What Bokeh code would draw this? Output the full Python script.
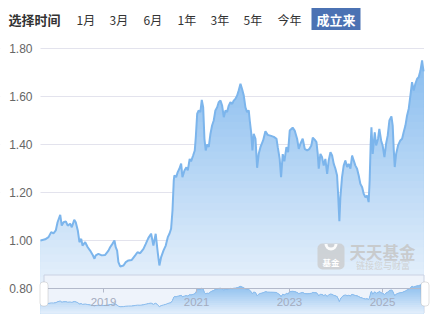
import numpy as np
import pandas as pd
from bokeh.plotting import figure
from bokeh.models import (Range1d, FixedTicker, PrintfTickFormatter,
                          DatetimeTickFormatter, BoxAnnotation, Label)
from bokeh.embed import file_html
from bokeh.resources import INLINE

# ---------------- data ----------------
nav_dates = [
    "2017-08-24", "2017-09-30", "2017-10-26", "2017-11-16", "2017-12-04", "2017-12-22",
    "2018-01-05", "2018-01-26", "2018-02-07", "2018-02-21", "2018-03-11", "2018-03-26",
    "2018-04-14", "2018-04-27", "2018-05-16", "2018-05-28", "2018-06-13", "2018-06-26",
    "2018-07-10", "2018-07-20", "2018-08-10", "2018-08-30", "2018-09-18", "2018-10-06",
    "2018-10-22", "2018-11-01", "2018-11-22", "2018-12-18", "2019-01-14", "2019-02-09",
    "2019-02-22", "2019-03-12", "2019-03-28", "2019-04-07", "2019-04-18", "2019-04-28",
    "2019-05-12", "2019-06-07", "2019-06-25", "2019-07-16", "2019-08-11", "2019-09-07",
    "2019-09-25", "2019-10-16", "2019-11-11", "2019-11-29", "2019-12-20", "2020-01-10",
    "2020-01-28", "2020-02-15", "2020-03-02", "2020-03-15", "2020-03-29", "2020-04-16",
    "2020-05-04", "2020-05-20", "2020-06-02", "2020-06-15", "2020-06-26", "2020-07-06",
    "2020-07-11", "2020-07-25", "2020-08-06", "2020-08-19", "2020-09-02", "2020-09-12",
    "2020-09-28", "2020-10-13", "2020-10-24", "2020-11-08", "2020-11-19", "2020-12-05",
    "2020-12-18", "2020-12-26", "2021-01-06", "2021-01-18", "2021-01-31", "2021-02-11",
    "2021-02-22", "2021-03-04", "2021-03-14", "2021-03-25", "2021-04-07", "2021-04-20",
    "2021-05-03", "2021-05-16", "2021-05-29", "2021-06-12", "2021-06-24", "2021-07-08",
    "2021-07-21", "2021-08-03", "2021-08-16", "2021-08-29", "2021-09-11", "2021-09-24",
    "2021-10-08", "2021-10-20", "2021-11-02", "2021-11-16", "2021-11-28", "2021-12-12",
    "2021-12-24", "2022-01-07", "2022-01-20", "2022-02-02", "2022-02-15", "2022-02-23",
    "2022-03-06", "2022-03-16", "2022-03-26", "2022-04-09", "2022-04-22", "2022-05-04",
    "2022-05-18", "2022-06-08", "2022-06-26", "2022-07-14", "2022-08-04", "2022-08-31",
    "2022-09-21", "2022-10-01", "2022-10-16", "2022-10-27", "2022-11-09", "2022-11-22",
    "2022-12-08", "2022-12-21", "2023-01-03", "2023-01-26", "2023-02-11", "2023-03-02",
    "2023-03-15", "2023-03-28", "2023-04-15", "2023-05-01", "2023-05-20", "2023-06-07",
    "2023-06-22", "2023-07-03", "2023-07-18", "2023-08-01", "2023-08-11", "2023-08-19",
    "2023-09-01", "2023-09-14", "2023-09-27", "2023-10-10", "2023-10-24", "2023-11-05",
    "2023-11-19", "2023-12-02", "2023-12-15", "2023-12-28", "2024-01-10", "2024-01-18",
    "2024-01-28", "2024-02-05", "2024-02-18", "2024-03-02", "2024-03-15", "2024-03-29",
    "2024-04-10", "2024-04-24", "2024-05-07", "2024-05-20", "2024-06-02", "2024-06-15",
    "2024-06-28", "2024-07-11", "2024-07-25", "2024-08-06", "2024-08-20", "2024-09-02",
    "2024-09-14", "2024-09-22", "2024-09-30", "2024-10-06", "2024-10-16", "2024-11-01",
    "2024-11-12", "2024-11-27", "2024-12-07", "2024-12-21", "2025-01-02", "2025-01-16",
    "2025-01-29", "2025-02-11", "2025-02-24", "2025-03-12", "2025-03-22", "2025-03-30",
    "2025-04-07", "2025-04-18", "2025-05-03", "2025-05-21", "2025-06-04", "2025-06-16",
    "2025-06-30", "2025-07-13", "2025-07-26", "2025-08-08", "2025-08-21", "2025-09-03",
    "2025-09-16", "2025-09-30", "2025-10-12", "2025-10-26", "2025-11-08", "2025-11-19",
]

unit_nav = [
    1.000, 1.005, 1.014, 1.035, 1.030, 1.042,
    1.076, 1.107, 1.062, 1.076, 1.080, 1.062,
    1.070, 1.055, 1.086, 1.076, 1.042, 0.993,
    1.007, 0.979, 0.993, 0.972, 0.958, 0.942,
    0.924, 0.938, 0.944, 0.938, 0.940, 0.958,
    0.972, 0.986, 1.000, 0.972, 0.958, 0.910,
    0.892, 0.896, 0.910, 0.917, 0.919, 0.938,
    0.951, 0.947, 0.965, 0.986, 1.011, 1.028,
    0.979, 1.028, 0.951, 0.896, 0.931, 0.958,
    0.979, 1.014, 1.028, 1.049, 1.125, 1.250,
    1.271, 1.264, 1.285, 1.299, 1.320, 1.264,
    1.292, 1.305, 1.292, 1.340, 1.330, 1.354,
    1.375, 1.430, 1.528, 1.542, 1.535, 1.586,
    1.555, 1.424, 1.375, 1.400, 1.390, 1.444,
    1.479, 1.500, 1.542, 1.555, 1.576, 1.583,
    1.562, 1.514, 1.542, 1.535, 1.562, 1.576,
    1.569, 1.583, 1.590, 1.604, 1.625, 1.653,
    1.632, 1.604, 1.555, 1.535, 1.542, 1.500,
    1.451, 1.375, 1.444, 1.424, 1.303, 1.360,
    1.389, 1.417, 1.455, 1.440, 1.437, 1.432,
    1.424, 1.389, 1.340, 1.264, 1.360, 1.330,
    1.389, 1.368, 1.458, 1.470, 1.458, 1.424,
    1.382, 1.403, 1.424, 1.382, 1.375, 1.382,
    1.396, 1.428, 1.420, 1.410, 1.361, 1.299,
    1.361, 1.347, 1.312, 1.340, 1.278, 1.333,
    1.368, 1.354, 1.319, 1.299, 1.271, 1.195,
    1.080, 1.180, 1.264, 1.312, 1.333, 1.306,
    1.319, 1.299, 1.354, 1.333, 1.312, 1.299,
    1.271, 1.236, 1.222, 1.195, 1.180, 1.187,
    1.160, 1.250, 1.403, 1.472, 1.361, 1.451,
    1.396, 1.424, 1.465, 1.417, 1.396, 1.347,
    1.403, 1.438, 1.500, 1.517, 1.479, 1.382,
    1.306, 1.361, 1.396, 1.417, 1.424, 1.451,
    1.479, 1.521, 1.549, 1.604, 1.660, 1.625,
    1.653, 1.674, 1.680, 1.708, 1.750, 1.705,
]

y_ticks = [0.80, 1.00, 1.20, 1.40, 1.60, 1.80]
nav_tick_years = [2019, 2021, 2023, 2025]

select_label = "选择时间"
range_buttons = ["1月", "3月", "6月", "1年", "3年", "5年", "今年"]
active_button = "成立来"
brand_name = "天天基金"
brand_slogan = "链接您与财富"
brand_icon_text = "基金"

# ---------------- layout constants (pixels) ----------------
W, H = 433, 329
DATA_L, DATA_R = 40, 423          # pixel span of the series
PLOT_BOTTOM = 313                 # bottom of main area / navigator
PX_PER_UNIT = 240.0               # main axis: 1.80 at y=48, 0.80 at y=288
Y_HI = 1.8 + 48 / PX_PER_UNIT
Y_LO = 0.8 - (H - 288) / PX_PER_UNIT
MAIN_BASE = 0.8 - (PLOT_BOTTOM - 288) / PX_PER_UNIT
PX_PER_NAV = 26.74                # navigator: 0.90 at y=306
NAV_HI = 0.9 + 306 / PX_PER_NAV
NAV_LO = 0.9 - (H - 306) / PX_PER_NAV
NAV_BASE = 0.9 - (PLOT_BOTTOM - 306) / PX_PER_NAV
button_left = [76, 109, 143, 177, 210, 243, 277]

x = pd.to_datetime(nav_dates)
v = np.array(unit_nav, dtype=float)
span = (x[-1] - x[0]) / (DATA_R - DATA_L)
x_start = x[0] - span * DATA_L
x_end = x[-1] + span * (W - DATA_R)


def lerp(c0, c1, t):
    t = min(max(t, 0.0), 1.0)
    return "#%02x%02x%02x" % tuple(int(round(a + (b - a) * t)) for a, b in zip(c0, c1))


p = figure(width=W, height=H, x_axis_type="datetime",
           x_range=Range1d(x_start.to_pydatetime(), x_end.to_pydatetime()),
           y_range=Range1d(Y_LO, Y_HI),
           toolbar_location=None, output_backend="svg",
           min_border=0, min_border_left=0, min_border_right=0,
           min_border_top=0, min_border_bottom=0)
p.extra_x_ranges = {"px": Range1d(0, W)}
p.extra_y_ranges = {"px": Range1d(H, 0), "nav": Range1d(NAV_LO, NAV_HI)}
p.outline_line_color = None
p.background_fill_color = "white"
p.border_fill_color = "white"

# grid + y axis (axis pinned at the series start)
yt = FixedTicker(ticks=y_ticks)
p.xgrid.visible = False
p.ygrid.ticker = yt
p.ygrid.grid_line_color = "#e3e3ed"
yax = p.yaxis[0]
yax.fixed_location = x[0].value / 1e6
yax.ticker = yt
yax.formatter = PrintfTickFormatter(format="%.2f")
yax.axis_line_color = None
yax.major_tick_line_color = None
yax.minor_tick_line_color = None
yax.major_tick_out = 0
yax.major_tick_in = 0
yax.minor_tick_out = 0
yax.major_label_text_font = "Liberation Sans"
yax.major_label_text_font_size = "12px"
yax.major_label_text_color = "#666666"
yax.major_label_standoff = 8

# white margins: keep grid lines within the series span
for l, r in [(0, DATA_L), (DATA_R + 0.5, W)]:
    p.quad(left=l, right=r, top=0, bottom=H, x_range_name="px", y_range_name="px",
           fill_color="white", line_color=None)

# ---------------- main area with vertical gradient ----------------
top_c, bot_c = (132, 186, 238), (242, 247, 253)
N = 36
edges = np.linspace(MAIN_BASE, 1.8, N + 1)
for i in range(N, 0, -1):
    mid = 0.5 * (edges[i - 1] + edges[i])
    col = lerp(top_c, bot_c, (1.8 - mid) / (1.8 - MAIN_BASE))
    p.varea(x=x, y1=MAIN_BASE, y2=np.clip(v, MAIN_BASE, edges[i]), fill_color=col, fill_alpha=1.0)
p.line(x, v, line_color="#7cb5ec", line_width=2)

# ---------------- watermark ----------------
p.add_layout(BoxAnnotation(left=317, right=344, top=243, bottom=269,
                           x_range_name="px", y_range_name="px",
                           fill_color="#c9c9c9", fill_alpha=0.75, line_color=None,
                           border_radius=5))
p.annular_wedge(x=330.5, y=243.5, inner_radius=3.5, outer_radius=6.5,
                start_angle=np.pi, end_angle=2 * np.pi,
                x_range_name="px", y_range_name="px",
                fill_color="white", fill_alpha=0.9, line_color=None, level="overlay")
p.add_layout(Label(x=330.5, y=261, text=brand_icon_text, x_range_name="px", y_range_name="px",
                   text_font="Noto Sans CJK SC", text_font_size="8.5px", text_font_style="bold",
                   text_color="white", text_align="center", text_baseline="middle"))
p.add_layout(Label(x=349, y=251, text=brand_name, x_range_name="px", y_range_name="px",
                   text_font="Noto Sans CJK SC", text_font_size="16.5px", text_font_style="bold",
                   text_color="#c6c6c6", text_alpha=0.85, text_align="left", text_baseline="middle"))
p.add_layout(Label(x=382.5, y=265, text=brand_slogan, x_range_name="px", y_range_name="px",
                   text_font="Noto Sans CJK SC", text_font_size="9px",
                   text_color="#cccccc", text_alpha=0.85, text_align="center", text_baseline="middle"))

# ---------------- navigator ----------------
p.quad(left=43.5, right=423.5, top=274.5, bottom=312.5, x_range_name="px", y_range_name="px",
       fill_color="#eef3fb", line_color="#cad2e3", line_width=1)
ntop_c, nbot_c = (128, 184, 237), (228, 239, 251)
NN = 16
nedges = np.linspace(NAV_BASE, 1.9, NN + 1)
for i in range(NN, 0, -1):
    mid = 0.5 * (nedges[i - 1] + nedges[i])
    ypx = 306 - (mid - 0.9) * PX_PER_NAV
    col = lerp(ntop_c, nbot_c, (ypx - 281) / (PLOT_BOTTOM - 281))
    p.varea(x=x, y1=NAV_BASE, y2=np.clip(v, NAV_BASE, nedges[i]), y_range_name="nav",
            fill_color=col, fill_alpha=1.0)
p.line(x, v, y_range_name="nav", line_color="#8cbdee", line_width=1)

xax = p.xaxis[0]
xax.fixed_location = 0.8
xax.bounds = (x[0].to_pydatetime(), x[-1].to_pydatetime())
xax.ticker = FixedTicker(ticks=[pd.Timestamp(f"{yr}-01-01").value / 1e6 for yr in nav_tick_years])
xax.formatter = DatetimeTickFormatter(years="%Y", months="%Y", days="%Y", hours="%Y")
xax.axis_line_color = "#b3b9ca"
xax.major_tick_line_color = "#b3b9ca"
xax.major_tick_out = 4
xax.major_tick_in = 0
xax.minor_tick_line_color = None
xax.major_label_text_font = "Liberation Sans"
xax.major_label_text_font_size = "11.5px"
xax.major_label_text_color = "#a4acbf"
xax.major_label_standoff = 5

for lft, rgt in [(39.5, 47.5), (420.5, 428.5)]:
    p.add_layout(BoxAnnotation(left=lft, right=rgt, top=281.5, bottom=305.5,
                               x_range_name="px", y_range_name="px",
                               fill_color="white", fill_alpha=1.0,
                               line_color="#9a9a9a", line_width=1, border_radius=3))

# ---------------- range selector bar ----------------
p.add_layout(Label(x=8, y=19, text=select_label, x_range_name="px", y_range_name="px",
                   text_font="Noto Sans CJK SC", text_font_size="13px", text_font_style="bold",
                   text_color="#333333", text_align="left", text_baseline="middle"))
for lx, txt in zip(button_left, range_buttons):
    p.add_layout(Label(x=lx, y=19, text=txt, x_range_name="px", y_range_name="px",
                       text_font="Noto Sans CJK SC", text_font_size="12px",
                       text_color="#333333", text_align="left", text_baseline="middle"))
p.add_layout(BoxAnnotation(left=311, right=360, top=7.5, bottom=29.5,
                           x_range_name="px", y_range_name="px",
                           fill_color="#4b72b3", fill_alpha=1.0, line_color=None))
p.add_layout(Label(x=335.5, y=19, text=active_button, x_range_name="px", y_range_name="px",
                   text_font="Noto Sans CJK SC", text_font_size="13px", text_font_style="bold",
                   text_color="white", text_align="center", text_baseline="middle"))

open("out.html", "w").write(file_html(p, INLINE))
